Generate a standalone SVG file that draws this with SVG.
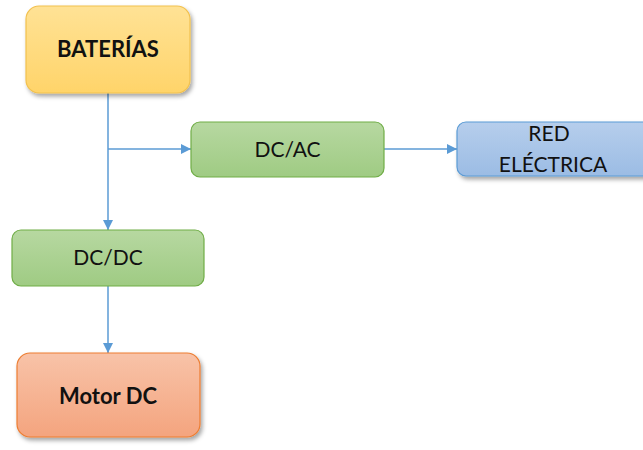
<svg xmlns="http://www.w3.org/2000/svg" width="643" height="450" viewBox="0 0 643 450">
<defs>
<linearGradient id="gY" x1="0" y1="0" x2="0" y2="1"><stop offset="0" stop-color="#FFE295"/><stop offset="1" stop-color="#FFD46A"/></linearGradient>
<linearGradient id="gG" x1="0" y1="0" x2="0" y2="1"><stop offset="0" stop-color="#B7D8A1"/><stop offset="1" stop-color="#9FCB83"/></linearGradient>
<linearGradient id="gB" x1="0" y1="0" x2="0" y2="1"><stop offset="0" stop-color="#B6CEEC"/><stop offset="1" stop-color="#9BBCE4"/></linearGradient>
<linearGradient id="gO" x1="0" y1="0" x2="0" y2="1"><stop offset="0" stop-color="#F8C3A8"/><stop offset="1" stop-color="#F4A47E"/></linearGradient>
<filter id="sh" x="-10%" y="-10%" width="130%" height="130%"><feDropShadow dx="2" dy="3" stdDeviation="2" flood-color="#000" flood-opacity="0.35"/></filter>
<marker id="ar" viewBox="0 0 10 10" refX="10" refY="5" markerWidth="10" markerHeight="10" markerUnits="userSpaceOnUse" orient="auto"><path d="M0,0 L10,5 L0,10 z" fill="#5B9BD5"/></marker>
</defs>
<style>
.t{font-family:Lato,"Open Sans","Liberation Sans",sans-serif;font-size:21px;fill:#111;text-anchor:middle}
.b{font-weight:bold;font-size:22px}
.c{stroke:#5B9BD5;stroke-width:1.5;fill:none}
</style>
<g id="connectors">
<path class="c" d="M108,93 V230" marker-end="url(#ar)"/>
<path class="c" d="M108,149 H191" marker-end="url(#ar)"/>
<path class="c" d="M384,149 H457" marker-end="url(#ar)"/>
<path class="c" d="M108,286 V353" marker-end="url(#ar)"/>
</g>
<g id="baterias">
<rect x="26" y="6" width="164" height="87" rx="13" fill="url(#gY)" stroke="#F2C14E" stroke-width="1.2" filter="url(#sh)"/>
<text class="t b" x="108" y="57">BATERÍAS</text>
</g>
<g id="dcac">
<rect x="191" y="122" width="193" height="55" rx="9" fill="url(#gG)" stroke="#70AD47" stroke-width="1.2"/>
<text class="t" x="287.5" y="157">DC/AC</text>
</g>
<g id="red">
<rect x="457" y="122" width="200" height="54" rx="9" fill="url(#gB)" stroke="#5B9BD5" stroke-width="1.2" filter="url(#sh)"/>
<text class="t" x="549" y="141">RED</text>
<text class="t" x="553" y="172">ELÉCTRICA</text>
</g>
<g id="dcdc">
<rect x="12" y="230" width="192" height="56" rx="9" fill="url(#gG)" stroke="#70AD47" stroke-width="1.2"/>
<text class="t" x="108" y="265">DC/DC</text>
</g>
<g id="motor">
<rect x="17" y="353" width="183" height="84" rx="13" fill="url(#gO)" stroke="#ED7D31" stroke-width="1.2" filter="url(#sh)"/>
<text class="t b" x="108" y="404">Motor DC</text>
</g>
</svg>
